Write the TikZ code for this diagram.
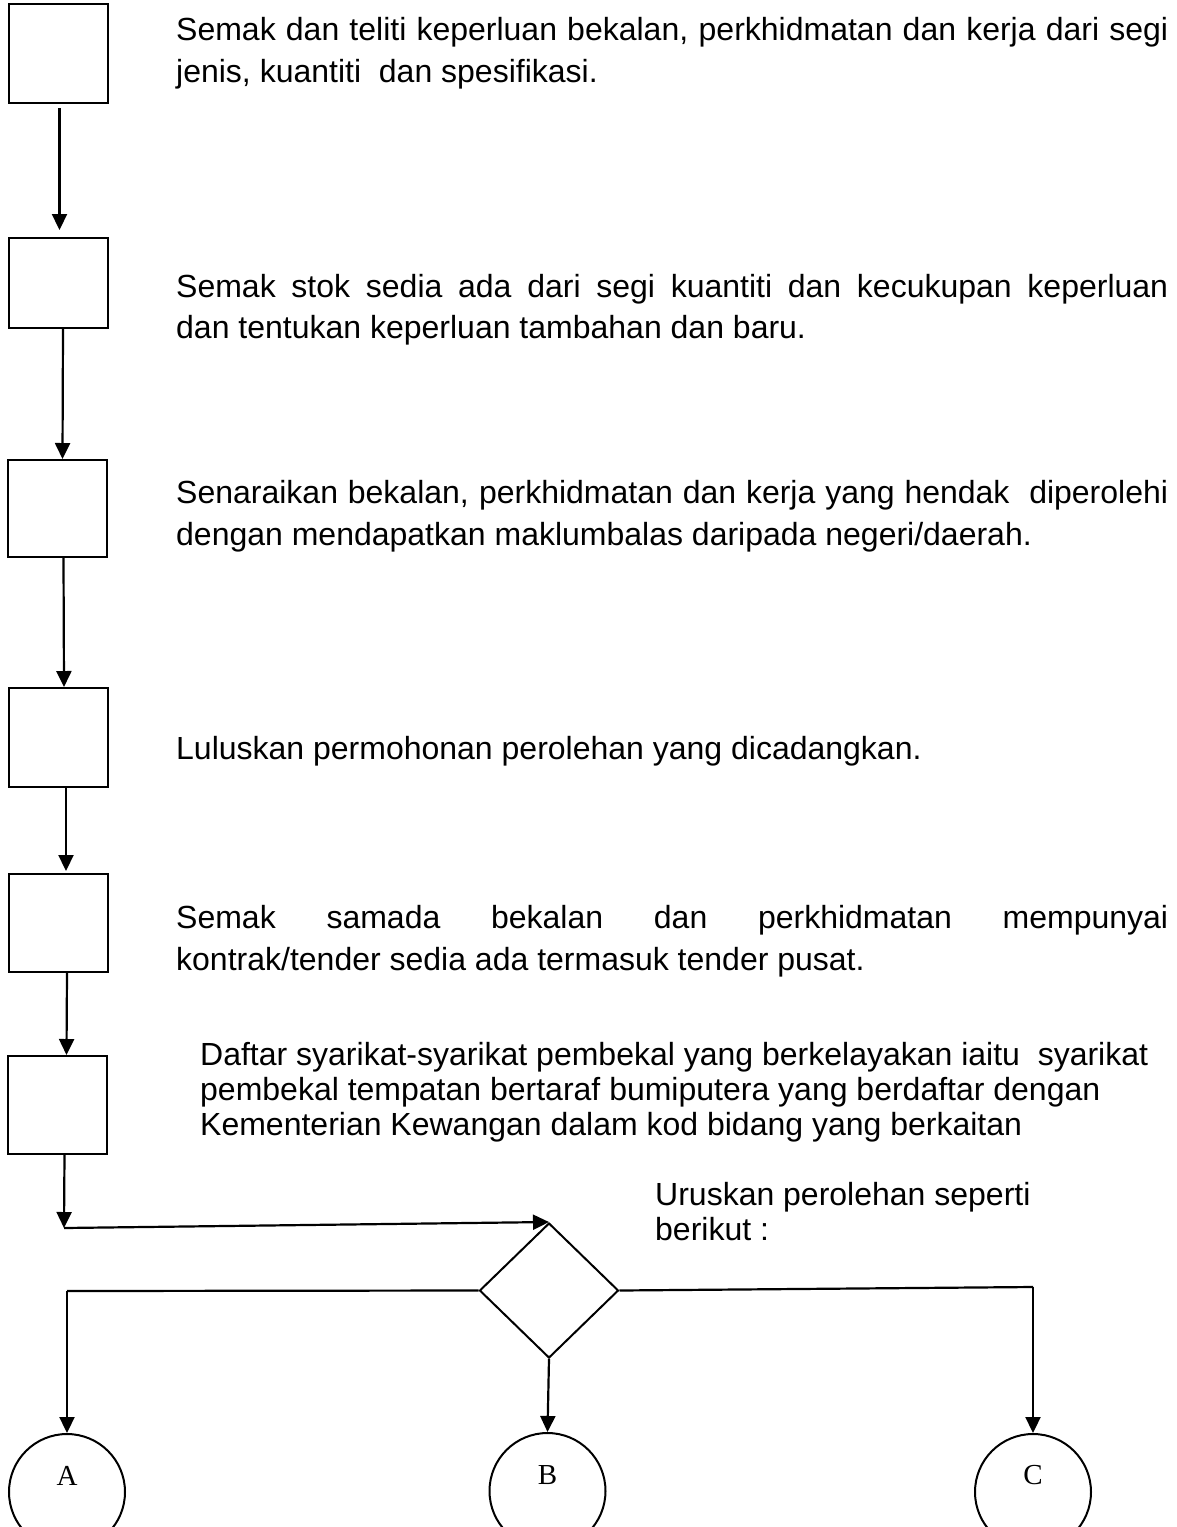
\documentclass[tikz,border=0pt]{standalone}
\usepackage{fontspec}
\setmainfont{Liberation Sans}
\newfontfamily\lettfont{Liberation Serif}
\usetikzlibrary{shapes.geometric,arrows.meta}
\begin{document}
\begin{tikzpicture}[x=1pt,y=-1pt,
  box/.style={draw,line width=2pt,minimum width=99pt,inner sep=0pt},
  dia/.style={draw,diamond,line width=2pt,minimum width=139pt,minimum height=135pt,inner sep=0pt},
  circ/.style={draw,circle,line width=2pt,minimum size=116pt,inner sep=0pt},
  lett/.style={inner sep=0pt,font=\lettfont\fontsize{29}{31}\selectfont},
  ln/.style={line width=2.2pt},
  arr/.style={line width=2.2pt,-{Triangle[length=16pt,width=15pt]}},
  txt/.style={anchor=base west,inner sep=0pt,font=\fontsize{32}{42}\selectfont}]
\useasboundingbox (0,0) rectangle (1177,1527);
\fill[white] (0,0) rectangle (1177,1527);

% boxes
\node[box,minimum height=99pt] (b1) at (58,53.5) {};
\node[box,minimum height=90pt] (b2) at (58,283) {};
\node[box,minimum height=97pt] (b3) at (57.5,508.5) {};
\node[box,minimum height=99pt] (b4) at (58,737.5) {};
\node[box,minimum height=98pt] (b5) at (58,923) {};
\node[box,minimum height=98pt] (b6) at (57.5,1105) {};

% diamond and circles
\node[dia] (d) at (549,1290.5) {};
\node[circ] (A) at (67,1492) {};
\node[circ] (B) at (547.5,1491) {};
\node[circ] (C) at (1033,1492) {};
\node[lett] (Al) at (67,1476) {A};
\node[lett] (Bl) at (547.5,1475) {B};
\node[lett] (Cl) at (1033,1475) {C};

% junctions
\coordinate (j1) at (64,1228);
\coordinate (jA) at (67,1291);
\coordinate (jC) at (1033,1287);

% connectors
\draw[arr] ([xshift=1.5pt,yshift=-4pt]b1.south) -- ([xshift=1.5pt,yshift=7pt]b2.north);
\draw[arr] ([xshift=5pt]b2.south) -- ([xshift=5pt]b3.north);
\draw[arr] ([xshift=6pt]b3.south) -- ([xshift=6pt]b4.north);
\draw[arr] ([xshift=8pt]b4.south) -- ([xshift=8pt,yshift=2pt]b5.north);
\draw[arr] ([xshift=9pt]b5.south) -- ([xshift=9pt]b6.north);
\draw[arr] ([xshift=7pt]b6.south) -- (j1);
\draw[arr] (j1) -- (d.north);
\draw[ln] (d.west) -- (jA);
\draw[arr] (jA) -- (A.north);
\draw[arr] (d.south) -- (B.north);
\draw[ln] (d.east) -- (jC);
\draw[arr] (jC) -- (C.north);

% texts
\node[txt] (t1a) at (176,40) {\makebox[992pt][s]{Semak dan teliti keperluan bekalan, perkhidmatan dan kerja dari segi}};
\node[txt] (t1b) at (176,82) {jenis, kuantiti\ \ dan spesifikasi.};
\node[txt] (t2a) at (176,297) {\makebox[992pt][s]{Semak stok sedia ada dari segi kuantiti dan kecukupan keperluan}};
\node[txt] (t2b) at (176,338) {dan tentukan keperluan tambahan dan baru.};
\node[txt] (t3a) at (176,503) {\makebox[992pt][s]{Senaraikan bekalan, perkhidmatan dan kerja yang hendak\ \ diperolehi}};
\node[txt] (t3b) at (176,545) {dengan mendapatkan maklumbalas daripada negeri/daerah.};
\node[txt] (t4a) at (176,759) {Luluskan permohonan perolehan yang dicadangkan.};
\node[txt] (t5a) at (176,928) {\makebox[992pt][s]{Semak samada bekalan dan perkhidmatan mempunyai}};
\node[txt] (t5b) at (176,970) {kontrak/tender sedia ada termasuk tender pusat.};
\node[txt] (t6a) at (200,1065) {Daftar syarikat-syarikat pembekal yang berkelayakan iaitu\ \ syarikat};
\node[txt] (t6b) at (200,1100) {pembekal tempatan bertaraf bumiputera yang berdaftar dengan};
\node[txt] (t6c) at (200,1135) {Kementerian Kewangan dalam kod bidang yang berkaitan};
\node[txt] (t7a) at (655,1205) {Uruskan perolehan seperti};
\node[txt] (t7b) at (655,1240) {berikut :};
\end{tikzpicture}
\end{document}
